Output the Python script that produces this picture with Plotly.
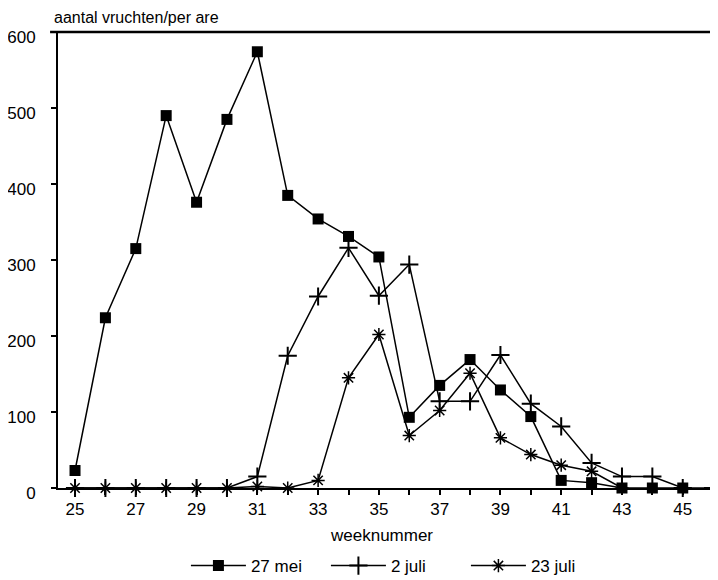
import plotly.graph_objects as go

weeks = list(range(25, 47))
tick_labels = [str(w) if w % 2 == 1 else "" for w in weeks]

weeks_mei = list(range(25, 46))
mei_27 = [23, 224, 315, 490, 376, 485, 574, 385, 354, 331, 304, 93, 135, 169, 129, 94, 10, 7, 0, 0, 0]

weeks_2juli = list(range(25, 47))
juli_2 = [0, 0, 0, 0, 0, 0, 15, 174, 252, 316, 253, 294, 114, 114, 175, 111, 81, 33, 15, 15, 0, 0]

weeks_23juli = list(range(25, 44))
juli_23 = [0, 0, 0, 0, 0, 0, 2, 0, 10, 145, 202, 69, 102, 151, 66, 44, 30, 22, 0]

y_ticks = [0, 100, 200, 300, 400, 500, 600]

FONT = "Liberation Sans, Arial, Helvetica, sans-serif"

fig = go.Figure()
fig.add_trace(go.Scatter(
    x=weeks_mei, y=mei_27, name="27 mei", mode="lines+markers",
    line=dict(color="black", width=1.5),
    marker=dict(symbol="square", size=11, color="black"),
    cliponaxis=False))
fig.add_trace(go.Scatter(
    x=weeks_2juli, y=juli_2, name="2 juli", mode="lines+markers",
    line=dict(color="black", width=1.5),
    marker=dict(symbol="cross-thin", size=13, color="black",
                line=dict(color="black", width=2)),
    cliponaxis=False))
fig.add_trace(go.Scatter(
    x=weeks_23juli, y=juli_23, name="23 juli", mode="lines+markers",
    line=dict(color="black", width=1.5),
    marker=dict(symbol="asterisk", size=11, color="black",
                line=dict(color="black", width=1.5)),
    cliponaxis=False))

# page body has an 8px default margin, so the figure is sized 8px smaller
fig.update_layout(
    width=710, height=572,
    margin=dict(l=50, r=0, t=24, b=92, autoexpand=False),
    paper_bgcolor="white", plot_bgcolor="white",
    font=dict(family=FONT, size=17, color="black"),
    showlegend=True,
    legend=dict(orientation="h", x=0.512, xanchor="center", y=-0.171, yanchor="middle",
                itemwidth=55, entrywidth=70, font=dict(size=17), bgcolor="rgba(0,0,0,0)"),
    xaxis=dict(range=[24.44, 46.16], tickmode="array", tickvals=weeks, ticktext=tick_labels,
               ticks="outside", ticklen=5, tickwidth=1.5, tickcolor="black",
               showline=True, linecolor="black", linewidth=2, automargin=False,
               showgrid=False, zeroline=False, tickfont=dict(size=17)),
    yaxis=dict(range=[0, 600], tickmode="array", tickvals=y_ticks,
               ticks="outside", ticklen=5, tickwidth=1.5, tickcolor="black",
               showline=True, linecolor="black", linewidth=2, automargin=False,
               showgrid=False, zeroline=False, tickfont=dict(size=17),
               ticklabelshift=5, ticklabelstandoff=12),
    annotations=[
        dict(text="aantal vruchten/per are", xref="paper", yref="paper",
             x=-0.009, y=1.032, xanchor="left", yanchor="middle",
             showarrow=False, font=dict(size=16)),
        dict(text="weeknummer", xref="paper", yref="paper",
             x=0.49, y=-0.105, xanchor="center", yanchor="middle",
             showarrow=False, font=dict(size=17)),
    ],
    shapes=[
        dict(type="line", xref="paper", yref="paper", x0=-0.012, x1=1, y0=1, y1=1,
             line=dict(color="black", width=2.5)),
    ],
)

fig.write_html("out.html")
